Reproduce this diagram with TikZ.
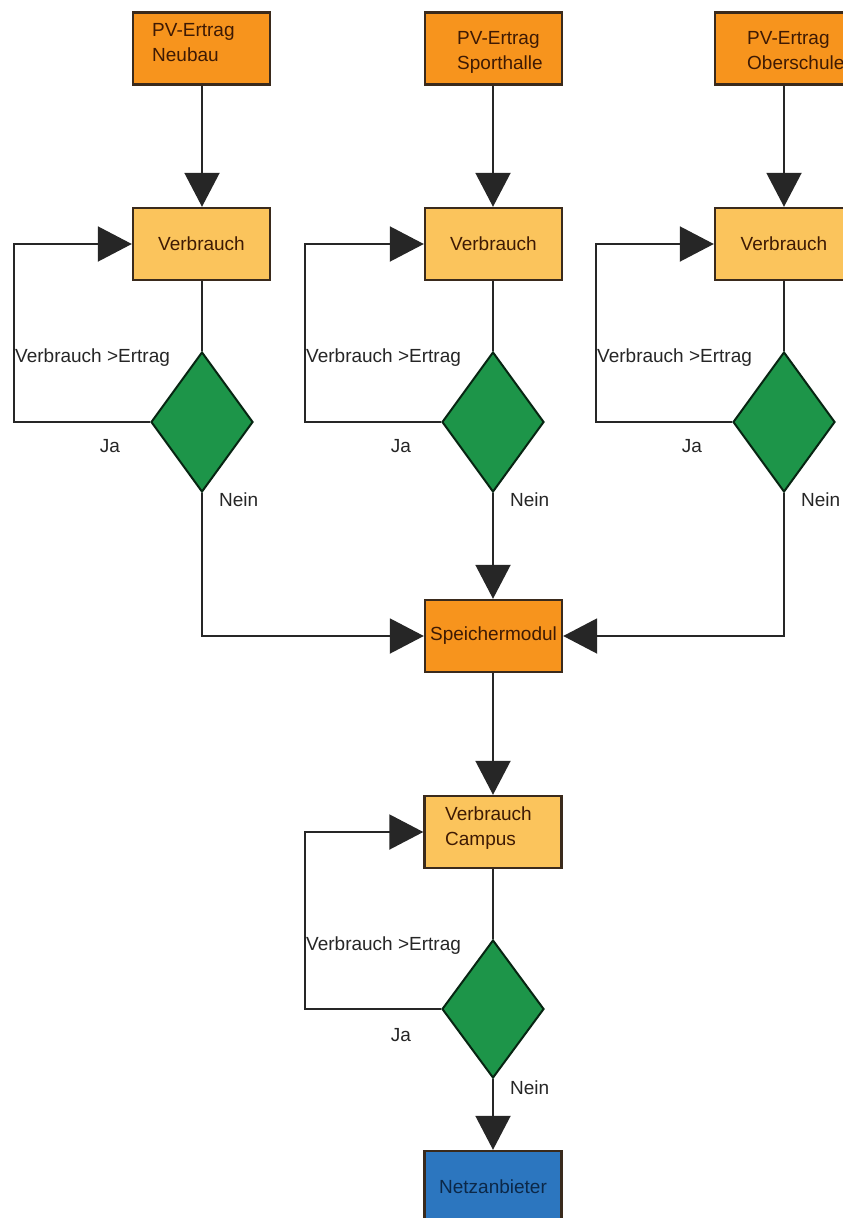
\documentclass[tikz,border=0pt]{standalone}
\usepackage{fontspec}
\setmainfont{Liberation Sans}
\usetikzlibrary{shapes.geometric,arrows.meta}
\definecolor{pvorange}{HTML}{F7941D}
\definecolor{vorange}{HTML}{FBC45C}
\definecolor{dgreen}{HTML}{1D9549}
\definecolor{nblue}{HTML}{2C76BF}
\definecolor{edgecol}{HTML}{3A2A1C}
\definecolor{brtext}{HTML}{3E1A04}
\definecolor{bltext}{HTML}{0C2848}
\tikzset{
  box/.style={draw=edgecol, line width=2.4pt, rectangle, minimum width=137pt, minimum height=72pt, inner sep=0pt, text=brtext, font=\fontsize{19}{25}\selectfont},
  pvbox/.style={box, fill=pvorange},
  vbox/.style={box, fill=vorange},
  netbox/.style={box, fill=nblue, text=bltext},
  dec/.style={diamond, draw=black!75!dgreen, line width=2pt, fill=dgreen, minimum width=102pt, minimum height=140pt, inner sep=0pt},
  conn/.style={line width=2pt, draw=black!85},
  arr/.style={conn, -{Triangle[length=34pt,width=35pt]}},
  lbl/.style={font=\fontsize{19}{22}\selectfont, inner sep=0pt, text=black!85},
  boxtxt/.style={align=left, inner sep=0pt, anchor=north west, text=brtext, font=\fontsize{19}{25}\selectfont},
}
\begin{document}
\begin{tikzpicture}[x=1pt, y=-1pt]
\useasboundingbox (0,0) rectangle (843,1218);
\clip (0,0) rectangle (843,1218);
\fill[white] (0,0) rectangle (843,1218);

% PV sources
\node[pvbox] (pv1) at (201.5,48.5) {};
\node[boxtxt] (pv1t) at (152,23) {PV-Ertrag\\Neubau};
\node[pvbox] (pv2) at (493.5,48.5) {};
\node[boxtxt] (pv2t) at (457,31) {PV-Ertrag\\Sporthalle};
\node[pvbox, minimum width=138pt] (pv3) at (784,48.5) {};
\node[boxtxt] (pv3t) at (747,31) {PV-Ertrag\\Oberschule};

% consumption boxes
\node[vbox] (v1) at (201.5,244) {Verbrauch};
\node[vbox] (v2) at (493.5,244) {Verbrauch};
\node[vbox, minimum width=138pt] (v3) at (784,244) {Verbrauch};

% decisions
\node[dec] (d1) at (202,422) {};
\node[dec] (d2) at (493,422) {};
\node[dec] (d3) at (784,422) {};

% storage
\node[pvbox] (sp) at (493.5,636) {Speichermodul};

% campus
\node[vbox] (vc) at (493,832) {};
\node[boxtxt] (vct) at (445,807) {Verbrauch\\Campus};
\node[dec, minimum height=138pt] (dc) at (493,1009) {};
\node[netbox] (net) at (493,1187) {Netzanbieter};

% loop corner coordinates
\coordinate (l1) at (14,330);
\coordinate (l2) at (305,330);
\coordinate (l3) at (596,330);
\coordinate (lc) at (305,920);

% connectors column 1
\draw[arr] (pv1.south -| d1.north) -- (v1.north -| d1.north);
\draw[conn] (v1.south -| d1.north) -- (d1.north);
\draw[arr] (d1.west) -| (l1) |- (v1.west);
\draw[arr] (d1.south) |- (sp.west);

% column 2
\draw[arr] (pv2.south -| d2.north) -- (v2.north -| d2.north);
\draw[conn] (v2.south -| d2.north) -- (d2.north);
\draw[arr] (d2.west) -| (l2) |- (v2.west);
\draw[arr] (d2.south) -- (sp.north -| d2.south);

% column 3
\draw[arr] (pv3.south) -- (v3.north);
\draw[conn] (v3.south) -- (d3.north);
\draw[arr] (d3.west) -| (l3) |- (v3.west);
\draw[arr] (d3.south) |- (sp.east);

% campus
\draw[arr] (sp.south -| vc.north) -- (vc.north);
\draw[conn] (vc.south) -- (dc.north);
\draw[arr] (dc.west) -| (lc) |- (vc.west);
\draw[arr] (dc.south) -- (net.north);

% labels
\node[lbl, anchor=west] (c1) at (15,358) {Verbrauch >Ertrag};
\node[lbl, anchor=west] (c2) at (306,358) {Verbrauch >Ertrag};
\node[lbl, anchor=west] (c3) at (597,358) {Verbrauch >Ertrag};
\node[lbl, anchor=west] (cc) at (306,946) {Verbrauch >Ertrag};
\node[lbl] (j1) at (110,446) {Ja};
\node[lbl] (j2) at (401,446) {Ja};
\node[lbl] (j3) at (692,446) {Ja};
\node[lbl] (jc) at (401,1035) {Ja};
\node[lbl, anchor=west] (n1) at (219,500) {Nein};
\node[lbl, anchor=west] (n2) at (510,500) {Nein};
\node[lbl, anchor=west] (n3) at (801,500) {Nein};
\node[lbl, anchor=west] (nc) at (510,1088) {Nein};
\end{tikzpicture}
\end{document}
